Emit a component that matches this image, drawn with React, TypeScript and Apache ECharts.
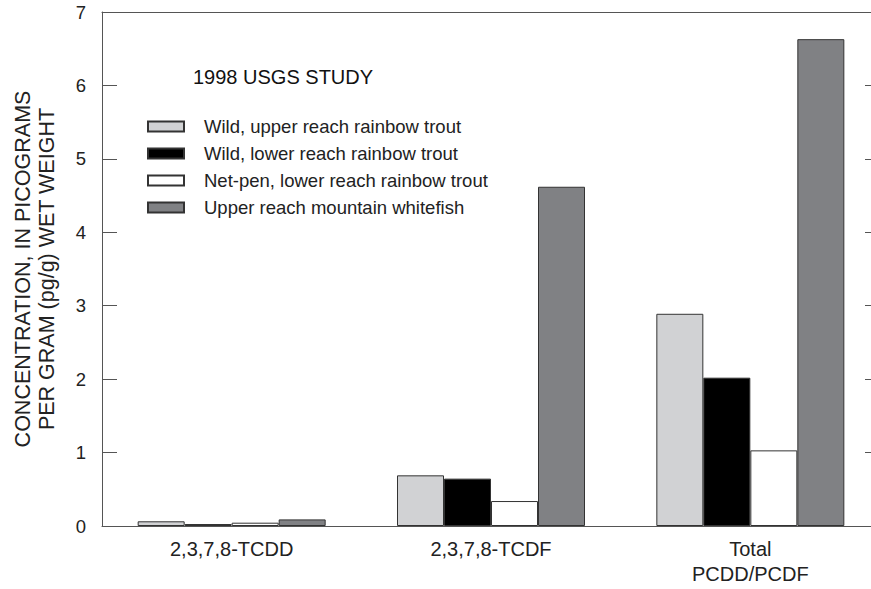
import React, { useEffect, useRef } from "react";
import * as echarts from "echarts";

const categories = ["2,3,7,8-TCDD", "2,3,7,8-TCDF", "Total\nPCDD/PCDF"];
const seriesNames = [
  "Wild, upper reach rainbow trout",
  "Wild, lower reach rainbow trout",
  "Net-pen, lower reach rainbow trout",
  "Upper reach mountain whitefish",
];
const wildUpper = [0.064, 0.69, 2.89];
const wildLower = [0.027, 0.645, 2.02];
const netPen = [0.045, 0.34, 1.03];
const whitefish = [0.09, 4.62, 6.63];
const yTicks = [0, 1, 2, 3, 4, 5, 6, 7];

const colors = ["#d1d2d4", "#000000", "#ffffff", "#808184"];
const FONT = "Liberation Sans, Arial, sans-serif";
const AXIS_COLOR = "#555";

const mkAxisLine = () => ({ show: true, onZero: false, lineStyle: { color: AXIS_COLOR, width: 1 } });
const mkTick = () => ({ show: true, inside: true, length: 15, lineStyle: { color: AXIS_COLOR, width: 1 } });

export default function App() {
  const ref = useRef<HTMLDivElement>(null);
  useEffect(() => {
    if (!ref.current) return;
    const chart = echarts.init(ref.current, null, { renderer: "svg" });
    const values = [wildUpper, wildLower, netPen, whitefish];
    chart.setOption({
      animation: false,
      backgroundColor: "#fff",
      textStyle: { fontFamily: FONT },
      title: {
        text: "1998 USGS STUDY",
        left: 188,
        top: 62,
        textStyle: { fontFamily: FONT, fontSize: 20, fontWeight: "normal", color: "#111" },
      },
      legend: {
        orient: "vertical",
        left: 142,
        top: 111,
        itemWidth: 36,
        itemHeight: 10,
        itemGap: 6,
        icon: "rect",
        selectedMode: false,
        data: seriesNames,
        textStyle: {
          fontFamily: FONT,
          fontSize: 18.5,
          lineHeight: 21,
          color: "#222",
          padding: [0, 0, 0, 15],
        },
      },
      grid: { left: 102, right: -9, top: 12, bottom: 63, containLabel: false, outerBoundsMode: "none" },
      xAxis: [
        {
          type: "category",
          data: categories,
          axisLine: mkAxisLine(),
          axisTick: { show: false },
          axisLabel: { fontFamily: FONT, fontSize: 20, color: "#222", margin: 10, lineHeight: 25 },
        },
        {
          type: "category",
          position: "top",
          data: categories,
          axisLine: mkAxisLine(),
          axisTick: { show: false },
          axisLabel: { show: false },
        },
      ],
      yAxis: [
        {
          type: "value",
          position: "left",
          min: yTicks[0],
          max: yTicks[yTicks.length - 1],
          interval: 1,
          axisLine: mkAxisLine(),
          axisTick: mkTick(),
          splitLine: { show: false },
          axisLabel: { fontFamily: FONT, fontSize: 18.5, color: "#222", margin: 16 },
          name: "CONCENTRATION, IN PICOGRAMS\nPER GRAM (pg/g) WET WEIGHT",
          nameLocation: "middle",
          nameRotate: 90,
          nameGap: 43,
          nameTextStyle: { fontFamily: FONT, fontSize: 21.5, color: "#222", lineHeight: 24 },
        },
        {
          type: "value",
          position: "right",
          min: yTicks[0],
          max: yTicks[yTicks.length - 1],
          interval: 1,
          axisLine: mkAxisLine(),
          axisTick: mkTick(),
          splitLine: { show: false },
          axisLabel: { show: false },
        },
      ],
      series: seriesNames.map((name, i) => ({
        name,
        type: "bar",
        data: values[i],
        barWidth: 47,
        barGap: "0%",
        itemStyle: { color: colors[i], borderColor: "#333", borderWidth: 1 },
      })),
    });
    return () => chart.dispose();
  }, []);
  return <div ref={ref} style={{ width: 871, height: 589, position: "absolute", left: 0, top: 0 }} />;
}
